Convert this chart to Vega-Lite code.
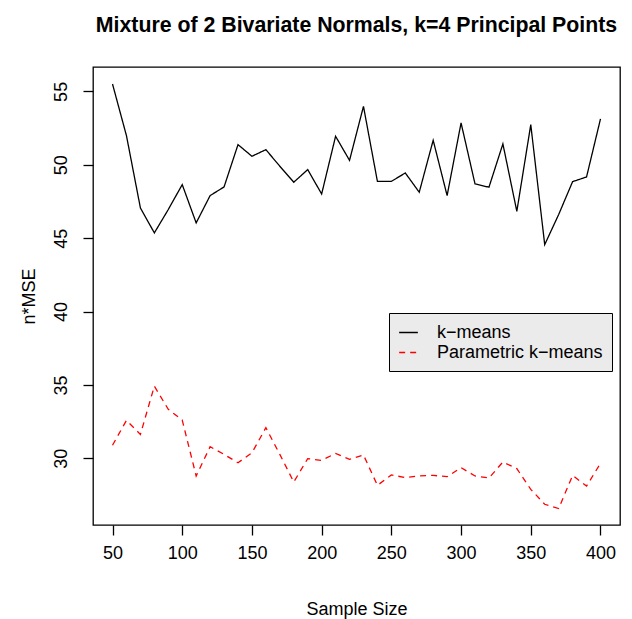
{
  "$schema": "https://vega.github.io/schema/vega-lite/v6.json",
  "width": 527,
  "height": 458,
  "autosize": {"type": "none"},
  "padding": {"left": 93, "top": 67, "right": 12, "bottom": 94},
  "background": "white",
  "config": {
    "font": "Liberation Sans",
    "view": {"stroke": "black", "strokeWidth": 1.3},
    "axis": {"grid": false, "domain": false, "tickColor": "black", "tickWidth": 1.3, "tickSize": 10, "labelColor": "black", "titleColor": "black", "labelFontSize": 18, "titleFontSize": 18, "titleFontWeight": "normal", "labelFont": "Liberation Sans", "titleFont": "Liberation Sans"}
  },
  "title": {"text": "Mixture of 2 Bivariate Normals, k=4 Principal Points", "fontSize": 21.3, "font": "Liberation Sans", "fontWeight": "bold", "color": "black", "anchor": "middle", "offset": 31},
  "data": {"values": [
    {"n": 50, "mse": 55.5, "series": "k−means"},
    {"n": 60, "mse": 51.98, "series": "k−means"},
    {"n": 70, "mse": 47.06, "series": "k−means"},
    {"n": 80, "mse": 45.36, "series": "k−means"},
    {"n": 90, "mse": 46.95, "series": "k−means"},
    {"n": 100, "mse": 48.65, "series": "k−means"},
    {"n": 110, "mse": 46.04, "series": "k−means"},
    {"n": 120, "mse": 47.9, "series": "k−means"},
    {"n": 130, "mse": 48.49, "series": "k−means"},
    {"n": 140, "mse": 51.37, "series": "k−means"},
    {"n": 150, "mse": 50.58, "series": "k−means"},
    {"n": 160, "mse": 51.03, "series": "k−means"},
    {"n": 170, "mse": 49.9, "series": "k−means"},
    {"n": 180, "mse": 48.81, "series": "k−means"},
    {"n": 190, "mse": 49.67, "series": "k−means"},
    {"n": 200, "mse": 48.01, "series": "k−means"},
    {"n": 210, "mse": 51.94, "series": "k−means"},
    {"n": 220, "mse": 50.3, "series": "k−means"},
    {"n": 230, "mse": 53.98, "series": "k−means"},
    {"n": 240, "mse": 48.87, "series": "k−means"},
    {"n": 250, "mse": 48.87, "series": "k−means"},
    {"n": 260, "mse": 49.44, "series": "k−means"},
    {"n": 270, "mse": 48.13, "series": "k−means"},
    {"n": 280, "mse": 51.67, "series": "k−means"},
    {"n": 290, "mse": 47.9, "series": "k−means"},
    {"n": 300, "mse": 52.85, "series": "k−means"},
    {"n": 310, "mse": 48.7, "series": "k−means"},
    {"n": 320, "mse": 48.47, "series": "k−means"},
    {"n": 330, "mse": 51.42, "series": "k−means"},
    {"n": 340, "mse": 46.83, "series": "k−means"},
    {"n": 350, "mse": 52.73, "series": "k−means"},
    {"n": 360, "mse": 44.56, "series": "k−means"},
    {"n": 370, "mse": 46.61, "series": "k−means"},
    {"n": 380, "mse": 48.85, "series": "k−means"},
    {"n": 390, "mse": 49.17, "series": "k−means"},
    {"n": 400, "mse": 53.12, "series": "k−means"},
    {"n": 50, "mse": 30.89, "series": "Parametric k−means"},
    {"n": 60, "mse": 32.59, "series": "Parametric k−means"},
    {"n": 70, "mse": 31.63, "series": "Parametric k−means"},
    {"n": 80, "mse": 34.92, "series": "Parametric k−means"},
    {"n": 90, "mse": 33.34, "series": "Parametric k−means"},
    {"n": 100, "mse": 32.61, "series": "Parametric k−means"},
    {"n": 110, "mse": 28.8, "series": "Parametric k−means"},
    {"n": 120, "mse": 30.79, "series": "Parametric k−means"},
    {"n": 130, "mse": 30.27, "series": "Parametric k−means"},
    {"n": 140, "mse": 29.7, "series": "Parametric k−means"},
    {"n": 150, "mse": 30.38, "series": "Parametric k−means"},
    {"n": 160, "mse": 32.09, "series": "Parametric k−means"},
    {"n": 170, "mse": 30.27, "series": "Parametric k−means"},
    {"n": 180, "mse": 28.39, "series": "Parametric k−means"},
    {"n": 190, "mse": 29.98, "series": "Parametric k−means"},
    {"n": 200, "mse": 29.86, "series": "Parametric k−means"},
    {"n": 210, "mse": 30.34, "series": "Parametric k−means"},
    {"n": 220, "mse": 29.93, "series": "Parametric k−means"},
    {"n": 230, "mse": 30.23, "series": "Parametric k−means"},
    {"n": 240, "mse": 28.16, "series": "Parametric k−means"},
    {"n": 250, "mse": 28.87, "series": "Parametric k−means"},
    {"n": 260, "mse": 28.69, "series": "Parametric k−means"},
    {"n": 270, "mse": 28.8, "series": "Parametric k−means"},
    {"n": 280, "mse": 28.84, "series": "Parametric k−means"},
    {"n": 290, "mse": 28.75, "series": "Parametric k−means"},
    {"n": 300, "mse": 29.37, "series": "Parametric k−means"},
    {"n": 310, "mse": 28.8, "series": "Parametric k−means"},
    {"n": 320, "mse": 28.66, "series": "Parametric k−means"},
    {"n": 330, "mse": 29.75, "series": "Parametric k−means"},
    {"n": 340, "mse": 29.3, "series": "Parametric k−means"},
    {"n": 350, "mse": 27.89, "series": "Parametric k−means"},
    {"n": 360, "mse": 26.87, "series": "Parametric k−means"},
    {"n": 370, "mse": 26.58, "series": "Parametric k−means"},
    {"n": 380, "mse": 28.84, "series": "Parametric k−means"},
    {"n": 390, "mse": 28.11, "series": "Parametric k−means"},
    {"n": 400, "mse": 29.66, "series": "Parametric k−means"}
  ]},
  "mark": {"type": "line", "strokeWidth": 1.3, "clip": true},
  "encoding": {
    "x": {"field": "n", "type": "quantitative", "title": "Sample Size",
      "scale": {"domain": [36, 414], "nice": false, "zero": false},
      "axis": {"values": [50, 100, 150, 200, 250, 300, 350, 400], "labelPadding": 9, "titlePadding": 38}},
    "y": {"field": "mse", "type": "quantitative", "title": "n*MSE",
      "scale": {"domain": [25.46, 56.66], "nice": false, "zero": false},
      "axis": {"values": [30, 35, 40, 45, 50, 55], "labelAngle": 270, "labelAlign": "center", "labelBaseline": "bottom", "labelPadding": 13, "titlePadding": 14}},
    "color": {"field": "series", "type": "nominal",
      "scale": {"domain": ["k−means", "Parametric k−means"], "range": ["black", "red"]},
      "legend": {"title": null, "orient": "none", "legendX": 296, "legendY": 246, "fillColor": "#ebebeb", "strokeColor": "black", "padding": 9, "symbolType": "stroke", "symbolSize": 350, "symbolStrokeWidth": 1.3, "labelFontSize": 18, "labelLimit": 400, "labelColor": "black", "labelFont": "Liberation Sans", "labelOffset": 18, "rowPadding": 0, "cornerRadius": 0}},
    "strokeDash": {"field": "series", "type": "nominal",
      "scale": {"domain": ["k−means", "Parametric k−means"], "range": [[1, 0], [6, 5]]},
      "legend": {"title": null}}
  }
}
